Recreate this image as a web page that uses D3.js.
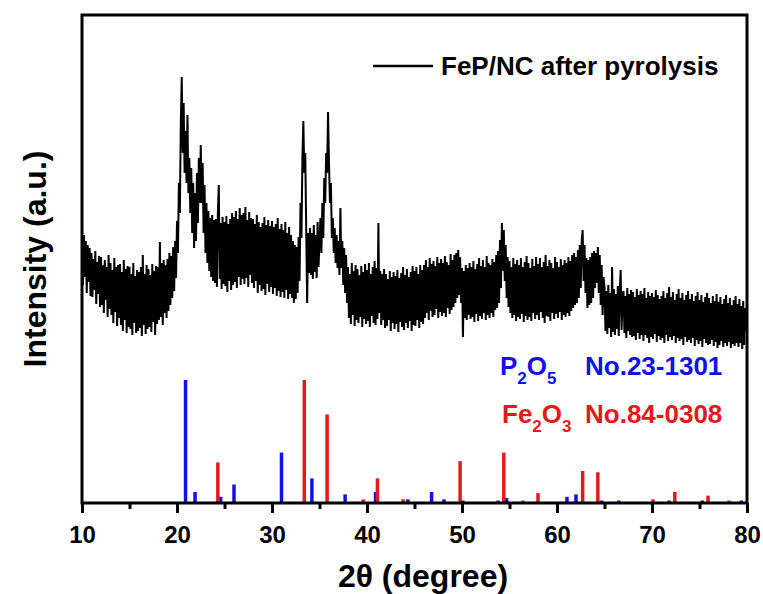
<!DOCTYPE html>
<html lang="en">
<head>
    <meta charset="UTF-8">
    <title>XRD FeP/NC after pyrolysis</title>
    <script src="https://d3js.org/d3.v7.min.js"></script>
    <style>
        body { margin: 0; background: #fff; }
        text { font-family: Arial, "Liberation Sans", sans-serif; font-weight: bold; }
    </style>
</head>
<body>
    <div id="chart"></div>
    <script>
        // XRD scan, 10-80 deg, 0.1 deg steps (a.u.)
        const scanStart = 10;
        const scanStep = 0.1;
        const scanIntensity = [
            276,218,268,226,262,210,258,221,255,207, // 10
            250,206,244,213,252,199,241,209,247,196, // 11
            246,198,238,190,243,203,236,186,248,194, // 12
            240,188,233,180,245,191,236,177,238,185, // 13
            239,178,231,172,243,183,234,170,237,176, // 14
            236,174,229,168,240,180,227,170,233,172, // 15
            231,175,236,167,248,178,229,169,238,174, // 16
            234,176,228,171,239,181,232,168,237,179, // 17
            236,183,261,186,240,178,243,190,238,185, // 18
            244,192,250,198,247,205,256,212,262,225, // 19
            282,250,320,290,380,426,350,400,330,372, // 20
            320,388,310,345,290,335,270,320,255,310, // 21
            262,330,280,345,300,358,300,340,270,318, // 22
            250,300,240,292,232,285,226,288,222,283, // 23
            220,284,216,290,318,224,280,214,286,219, // 24
            281,217,287,211,279,222,284,213,290,218, // 25
            286,221,292,215,284,226,295,218,288,224, // 26
            290,219,296,225,283,216,291,228,285,220, // 27
            284,215,279,222,288,210,281,218,276,212, // 28
            280,214,286,208,278,219,283,211,277,216, // 29
            282,209,276,215,279,207,285,212,274,206, // 30
            279,211,273,205,281,213,270,204,276,209, // 31
            268,205,262,200,258,204,256,210,266,222, // 32
            300,265,345,382,330,350,275,200,270,230, // 33
            275,228,270,224,278,231,268,225,281,236, // 34
            262,285,250,300,265,325,300,350,330,391, // 35
            340,300,320,265,285,250,275,240,268,235, // 36
            262,228,295,235,262,218,255,210,248,200, // 37
            236,185,229,179,240,188,232,177,238,183, // 38
            234,180,228,186,237,176,231,184,239,179, // 39
            233,182,240,176,229,187,236,180,242,178, // 40
            235,184,280,190,232,178,229,183,234,175, // 41
            229,177,224,183,232,172,226,180,231,174, // 42
            227,179,233,171,225,181,230,176,236,173, // 43
            228,180,234,175,226,182,231,172,237,178, // 44
            232,177,236,183,229,175,238,181,233,179, // 45
            238,185,243,190,236,183,245,192,239,186, // 46
            242,188,237,194,246,185,240,191,244,187, // 47
            240,190,247,186,241,195,238,189,249,193, // 48
            243,196,248,200,250,205,253,208,246,200, // 49
            235,166,232,185,238,183,235,188,240,184, // 50
            236,186,242,181,234,189,239,182,245,187, // 51
            237,184,243,190,236,183,247,188,240,185, // 52
            238,190,244,186,241,193,248,195,252,200, // 53
            263,215,280,232,273,222,258,205,246,196, // 54
            242,190,236,185,245,188,239,182,243,186, // 55
            238,184,245,189,236,181,241,187,247,183, // 56
            240,186,235,182,244,190,237,184,246,188, // 57
            239,183,245,191,236,185,241,180,248,187, // 58
            237,186,243,182,240,190,235,184,246,189, // 59
            241,185,236,191,244,183,238,188,243,186, // 60
            240,190,246,187,242,192,248,195,250,198, // 61
            246,200,253,205,258,215,262,273,222,258, // 62
            210,245,195,243,198,246,200,250,205,252, // 63
            215,250,220,256,210,248,198,238,188,226, // 64
            216,172,212,169,218,175,210,166,236,171, // 65
            214,168,209,174,217,167,211,233,173,208, // 66
            212,170,207,165,215,172,209,168,213,166, // 67
            211,167,206,163,214,170,208,164,212,168, // 68
            209,162,215,168,205,165,211,160,207,166, // 69
            210,164,206,169,213,161,208,167,204,163, // 70
            207,165,212,160,205,168,210,162,216,166, // 71
            206,163,211,167,203,160,209,165,214,162, // 72
            205,164,210,158,203,166,208,161,212,163, // 73
            204,160,209,165,202,157,207,163,211,159, // 74
            203,162,208,156,201,164,206,160,210,158, // 75
            205,159,200,163,207,157,202,161,209,155, // 76
            201,158,206,162,199,156,204,160,208,157, // 77
            200,161,205,155,198,159,203,157,207,160, // 78
            199,156,204,160,197,154,202,158,195,172, // 79
            183                                      // 80
        ];

        // reference patterns (relative intensity)
        const p2o5Angles = [20.9, 21.9, 24.6, 26.0, 31.0, 34.2, 37.7, 40.9, 44.3, 46.8, 48.1, 50.1, 53.8, 54.7, 61.05, 62.0, 64.7, 66.5, 71.8, 75.3, 79.4];
        const p2o5Rel    = [100, 9, 5, 15, 41, 20, 7, 9, 3, 9, 3, 2, 2, 4, 5, 7, 2, 2, 2, 2, 2];
        const fe2o3Angles = [24.3, 33.4, 35.8, 39.6, 41.1, 43.8, 49.8, 54.4, 56.4, 58.0, 62.7, 64.3, 70.1, 72.4, 75.9, 78.1];
        const fe2o3Rel    = [33, 100, 72, 3, 20, 3, 34, 41, 2, 8, 26, 25, 3, 9, 6, 2];

        const majorTicks = [10, 20, 30, 40, 50, 60, 70, 80];
        const minorTicks = [15, 25, 35, 45, 55, 65, 75];

        const W = 763, H = 594;
        const margin = { top: 15, right: 16, bottom: 91, left: 82 };
        const innerW = W - margin.left - margin.right;
        const innerH = H - margin.top - margin.bottom;

        const blue = '#1212e6';
        const red = '#e31a1c';

        const svg = d3.select('#chart')
            .append('svg')
            .attr('width', W)
            .attr('height', H);

        const g = svg.append('g')
            .attr('transform', `translate(${margin.left},${margin.top})`);

        const x = d3.scaleLinear().domain([10, 80]).range([0, innerW]);
        const y = d3.scaleLinear().domain([0, innerH]).range([innerH, 0]);
        const yStick = d3.scaleLinear().domain([0, 100]).range([innerH, innerH - 123]);

        // scan curve
        const scan = scanIntensity.map((v, i) => ({ a: scanStart + i * scanStep, v: v }));
        const line = d3.line().x(d => x(d.a)).y(d => y(d.v));
        g.append('path')
            .datum(scan)
            .attr('d', line)
            .attr('fill', 'none')
            .attr('stroke', '#000')
            .attr('stroke-width', 2)
            .attr('stroke-linejoin', 'miter');

        // stick patterns
        function sticks(angles, rel, color) {
            g.append('g').selectAll('line')
                .data(angles)
                .enter()
                .append('line')
                .attr('x1', d => x(d))
                .attr('x2', d => x(d))
                .attr('y1', yStick(0))
                .attr('y2', (d, i) => yStick(rel[i]))
                .attr('stroke', color)
                .attr('stroke-width', 3.5);
        }
        sticks(p2o5Angles, p2o5Rel, blue);
        sticks(fe2o3Angles, fe2o3Rel, red);

        // frame
        g.append('rect')
            .attr('width', innerW)
            .attr('height', innerH)
            .attr('fill', 'none')
            .attr('stroke', '#000')
            .attr('stroke-width', 3);

        // x axis
        const xAxis = g.append('g')
            .attr('transform', `translate(0,${innerH})`)
            .call(d3.axisBottom(x).tickValues(majorTicks).tickSize(10).tickPadding(13).tickFormat(d3.format('d')));
        xAxis.select('.domain').remove();
        xAxis.selectAll('line').attr('stroke-width', 3);
        xAxis.selectAll('text')
            .attr('fill', '#000')
            .style('font-size', '24px');

        const xMinor = g.append('g')
            .attr('transform', `translate(0,${innerH})`)
            .call(d3.axisBottom(x).tickValues(minorTicks).tickSize(6).tickFormat(''));
        xMinor.select('.domain').remove();
        xMinor.selectAll('line').attr('stroke-width', 3);

        // axis titles
        svg.append('text')
            .attr('x', 423)
            .attr('y', 587)
            .attr('text-anchor', 'middle')
            .style('font-size', '32px')
            .text('2θ (degree)');

        svg.append('text')
            .attr('transform', 'translate(46,259) rotate(-90)')
            .attr('text-anchor', 'middle')
            .style('font-size', '32px')
            .text('Intensity (a.u.)');

        // legend
        svg.append('line')
            .attr('x1', 373).attr('x2', 433)
            .attr('y1', 66).attr('y2', 66)
            .attr('stroke', '#000')
            .attr('stroke-width', 2.5);
        svg.append('text')
            .attr('x', 441)
            .attr('y', 75)
            .style('font-size', '26px')
            .text('FeP/NC after pyrolysis');

        function formula(xPos, yPos, parts, color) {
            const t = svg.append('text')
                .attr('x', xPos)
                .attr('y', yPos)
                .attr('fill', color)
                .style('font-size', '26px');
            parts.forEach(p => {
                const s = t.append('tspan').text(p.t);
                if (p.sub) s.attr('dy', 9).style('font-size', '17px');
                else if (p.back) s.attr('dy', -9);
            });
        }
        formula(500, 375, [{ t: 'P' }, { t: '2', sub: true }, { t: 'O', back: true }, { t: '5', sub: true }], blue);
        formula(502, 423, [{ t: 'Fe' }, { t: '2', sub: true }, { t: 'O', back: true }, { t: '3', sub: true }], red);

        svg.append('text').attr('x', 585).attr('y', 375).attr('fill', blue)
            .style('font-size', '26px').text('No.23-1301');
        svg.append('text').attr('x', 585).attr('y', 423).attr('fill', red)
            .style('font-size', '26px').text('No.84-0308');
    </script>
</body>
</html>
